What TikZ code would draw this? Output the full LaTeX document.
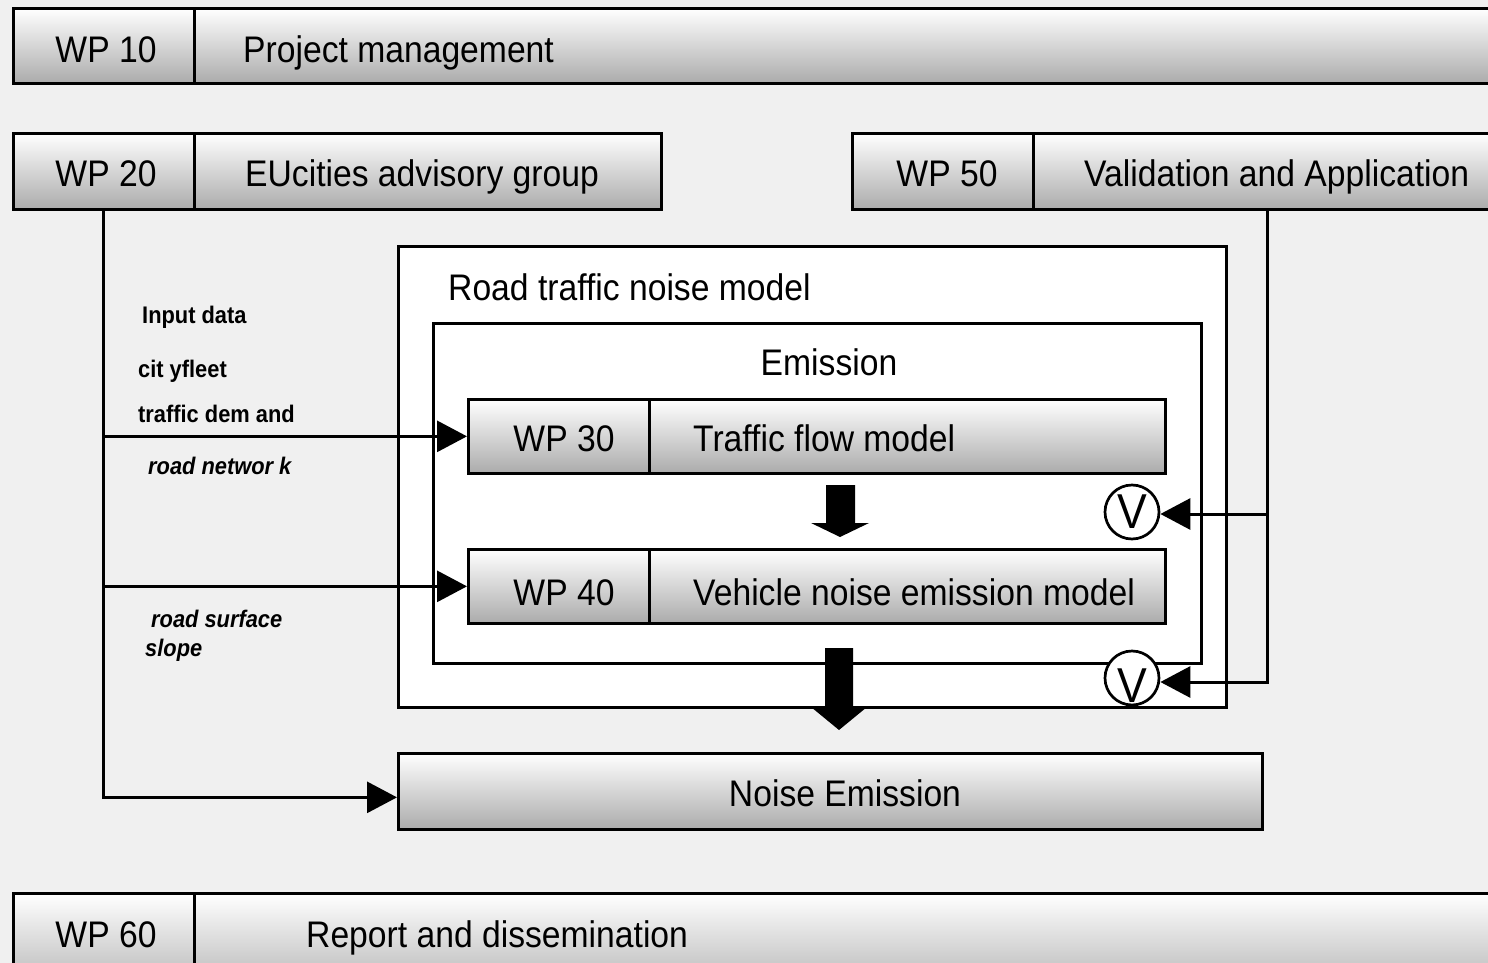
\documentclass[tikz,border=0pt]{standalone}
\usepackage{fontspec}
\setmainfont[FakeStretch=0.91]{Liberation Sans}
\usetikzlibrary{arrows.meta}
\definecolor{pagebg}{HTML}{F0F0F0}
\definecolor{shadelow}{HTML}{ABABAB}

\begin{document}
\begin{tikzpicture}[x=1pt,y=-1pt,
  wpbox/.style={draw=black, line width=2.7pt, top color=white, bottom color=shadelow,
    rectangle, inner sep=0pt, anchor=north west},
  frame/.style={draw=black, line width=2.7pt, fill=white, rectangle, inner sep=0pt, anchor=north west},
  big/.style={font=\fontsize{37}{40}\selectfont, anchor=base, inner sep=0pt},
  bigleft/.style={big, anchor=base west},
  lbl/.style={font=\fontsize{24}{27}\selectfont\bfseries, anchor=base west, inner sep=0pt},
  lbli/.style={lbl, font=\fontsize{24}{27}\selectfont\bfseries\itshape},
  conn/.style={draw=black, line width=3pt, -{Triangle[length=30pt,width=31pt]}},
  vcirc/.style={circle, draw=black, line width=2.7pt, fill=white, minimum size=54pt, inner sep=0pt,
    font=\fontsize{49}{49}\selectfont},
  blockarrow/.style={fill=black}
]
\useasboundingbox (0,0) rectangle (1488,963);
\fill[pagebg] (0,0) rectangle (1488,963);
\clip (0,0) rectangle (1488,963);

% outer frames of the noise model
\node[frame, minimum width=828pt, minimum height=461pt] (road) at (397,245) {};
\node[frame, minimum width=768pt, minimum height=340pt] (emis) at (432,322) {};
\node[bigleft] (roadtxt) at (448,300) {Road traffic noise model};
\node[big] (emistxt) at (829,375) {Emission};

% work package bars
\node[wpbox, minimum width=181pt, minimum height=75pt] (wp10id) at (12,7) {};
\node[wpbox, minimum width=1310pt, minimum height=75pt] (wp10t) at (193,7) {};
\node[big] at (106,63) {WP 10};
\node[bigleft] at (243,63) {Project management};

\node[wpbox, minimum width=181pt, minimum height=76pt] (wp20id) at (12,132) {};
\node[wpbox, minimum width=467pt, minimum height=76pt] (wp20t) at (193,132) {};
\node[big] at (106,186) {WP 20};
\node[bigleft] at (245,186) {EUcities advisory group};

\node[wpbox, minimum width=181pt, minimum height=76pt] (wp50id) at (851,132) {};
\node[wpbox, minimum width=480pt, minimum height=76pt] (wp50t) at (1032,132) {};
\node[big] at (947,186) {WP 50};
\node[bigleft] at (1084,186) {Validation and Application};

\node[wpbox, minimum width=181pt, minimum height=74pt] (wp30id) at (467,398) {};
\node[wpbox, minimum width=516pt, minimum height=74pt] (wp30t) at (648,398) {};
\node[big] at (564,451) {WP 30};
\node[bigleft] at (693,451) {Traffic flow model};

\node[wpbox, minimum width=181pt, minimum height=74pt] (wp40id) at (467,548) {};
\node[wpbox, minimum width=516pt, minimum height=74pt] (wp40t) at (648,548) {};
\node[big] at (564,605) {WP 40};
\node[bigleft] at (693,605) {Vehicle noise emission model};

\node[wpbox, minimum width=864pt, minimum height=76pt] (noise) at (397,752) {};
\node[big] at (845,806) {Noise Emission};

\node[wpbox, minimum width=181pt, minimum height=110pt] (wp60id) at (12,892) {};
\node[wpbox, minimum width=1310pt, minimum height=110pt] (wp60t) at (193,892) {};
\node[big] at (106,947) {WP 60};
\node[bigleft] at (306,947) {Report and dissemination};

% input data labels
\node[lbl] (in0) at (142,323) {Input data};
\node[lbl] (in1) at (138,377) {cit yfleet};
\node[lbl] (in2) at (138,422) {traffic dem and};
\node[lbli] (in3) at (148,474) {road networ k};
\node[lbli] (in4) at (151,627) {road surface};
\node[lbli] (in5) at (145,656) {slope};

% input data feeds
\draw[conn] (wp20id.south) |- (wp30id.west);
\draw[conn] (wp20id.south) |- (wp40id.west);
\draw[conn] (wp20id.south) |- ([yshift=-6pt]noise.west);

% validation feedback
\coordinate (val) at (1267,208);
\node[vcirc] (v1) at (1132,512) {V};
\node[vcirc] (v2) at (1132,678) {};
\node[font=\fontsize{49}{49}\selectfont, inner sep=0pt] (v2txt) at ([yshift=-8pt]v2.center) {V};
\draw[conn] (val) |- ([yshift=-2pt]v1.east);
\draw[conn] (val) |- ([yshift=-4pt]v2.east);

% block arrows between the model stages
\fill[blockarrow] (826,485) -- (855,485) -- (855,523) -- (869,523) -- (840,537)
  -- (811,523) -- (826,523) -- cycle;
\fill[blockarrow] (825,648) -- (853,648) -- (853,707) -- (867,707) -- (839,730)
  -- (811,707) -- (825,707) -- cycle;
\end{tikzpicture}
\end{document}
